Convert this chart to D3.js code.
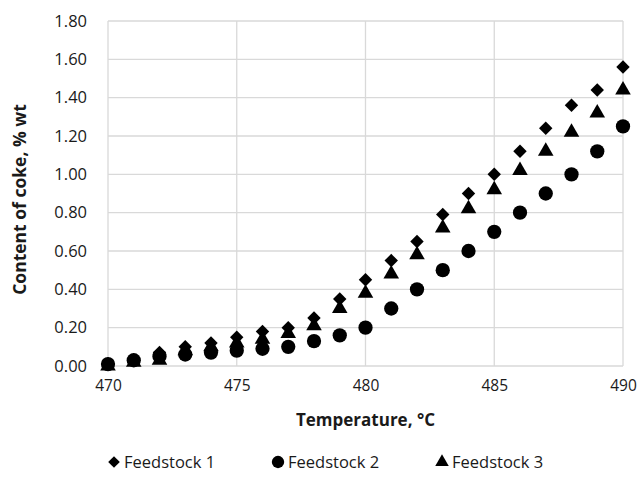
<!DOCTYPE html>
<html>
<head>
<meta charset="utf-8">
<script src="https://cdn.jsdelivr.net/npm/d3@7"></script>
<style>
  body { margin: 0; background: #fff; }
  svg text { font-family: "Open Sans", "Liberation Sans", sans-serif; fill: #1a1a1a; }
</style>
</head>
<body>
<div id="graphicContainer"></div>
<script>
var temps = [470, 471, 472, 473, 474, 475, 476, 477, 478, 479, 480, 481, 482, 483, 484, 485, 486, 487, 488, 489, 490]
var feed1 = [0.01, 0.03, 0.07, 0.10, 0.12, 0.15, 0.18, 0.20, 0.25, 0.35, 0.45, 0.55, 0.65, 0.79, 0.90, 1.00, 1.12, 1.24, 1.36, 1.44, 1.56]
var feed2 = [0.01, 0.03, 0.05, 0.06, 0.07, 0.08, 0.09, 0.10, 0.13, 0.16, 0.20, 0.30, 0.40, 0.50, 0.60, 0.70, 0.80, 0.90, 1.00, 1.12, 1.25]
var feed3 = [0.00, 0.02, 0.03, 0.08, 0.10, 0.12, 0.14, 0.17, 0.21, 0.30, 0.38, 0.48, 0.58, 0.72, 0.82, 0.92, 1.02, 1.12, 1.22, 1.32, 1.44]
var seriesNames = ["Feedstock 1", "Feedstock 2", "Feedstock 3"]
var xTicks = [470, 475, 480, 485, 490]
var yTicks = [0, 0.2, 0.4, 0.6, 0.8, 1.0, 1.2, 1.4, 1.6, 1.8]

var width = 638, height = 487
var margin = {top: 21, right: 15, bottom: 121, left: 108}
var w = width - margin.left - margin.right
var h = height - margin.top - margin.bottom

var svg = d3.select("#graphicContainer").append("svg")
    .attr("width", width)
    .attr("height", height)

var g = svg.append("g")
    .attr("transform", "translate(" + margin.left + "," + margin.top + ")")

var x = d3.scaleLinear().domain([470, 490]).range([0, w])
var y = d3.scaleLinear().domain([0, 1.8]).range([h, 0])

// gridlines
g.append("g")
    .selectAll("line")
    .data(yTicks)
    .enter().append("line")
    .attr("x1", 0).attr("x2", w)
    .attr("y1", d => y(d)).attr("y2", d => y(d))
    .attr("stroke", "#d9d9d9").attr("stroke-width", 1.3)

g.append("g")
    .selectAll("line")
    .data(xTicks)
    .enter().append("line")
    .attr("y1", 0).attr("y2", h)
    .attr("x1", d => x(d)).attr("x2", d => x(d))
    .attr("stroke", "#d9d9d9").attr("stroke-width", 1.3)

// axes (labels only)
var yAxis = g.append("g")
    .call(d3.axisLeft(y).tickValues(yTicks).tickFormat(d3.format(".2f")).tickSize(0).tickPadding(21))
yAxis.select(".domain").remove()
yAxis.selectAll("text").style("font-size", "16.5px").attr("fill", "#1a1a1a")

var xAxis = g.append("g")
    .attr("transform", "translate(0," + h + ")")
    .call(d3.axisBottom(x).tickValues(xTicks).tickFormat(d3.format("d")).tickSize(0).tickPadding(14))
xAxis.select(".domain").remove()
xAxis.selectAll("text").style("font-size", "15.5px").attr("fill", "#1a1a1a")

// titles
svg.append("text")
    .attr("x", margin.left + w / 2)
    .attr("y", 426)
    .attr("text-anchor", "middle")
    .style("font-size", "17px")
    .style("font-weight", "bold")
    .text("Temperature, °C")

svg.append("text")
    .attr("transform", "translate(26," + (margin.top + h / 2 + 6) + ") rotate(-90)")
    .attr("text-anchor", "middle")
    .style("font-size", "17.5px")
    .style("font-weight", "bold")
    .text("Content of coke, % wt")

var symbols = [d3.symbolDiamond2, d3.symbolCircle, d3.symbolTriangle]
var sizes = [115, 160, 105]
var allSeries = [feed1, feed2, feed3]

allSeries.forEach((vals, i) => {
    var sym = d3.symbol().type(symbols[i]).size(sizes[i])
    g.append("g")
        .selectAll("path")
        .data(vals)
        .enter().append("path")
        .attr("d", sym)
        .attr("transform", (d, j) => "translate(" + x(temps[j]) + "," + y(d) + ")")
        .attr("fill", "#000")
})

// legend
var legendX = [114, 278, 442]
var legend = svg.append("g").attr("transform", "translate(0,462)")
seriesNames.forEach((name, i) => {
    legend.append("path")
        .attr("d", d3.symbol().type(symbols[i]).size(sizes[i] * 0.75)())
        .attr("transform", "translate(" + legendX[i] + ",0)")
        .attr("fill", "#000")
    legend.append("text")
        .attr("x", legendX[i] + 10)
        .attr("y", 6)
        .style("font-size", "16.5px")
        .text(name)
})
</script>
</body>
</html>
